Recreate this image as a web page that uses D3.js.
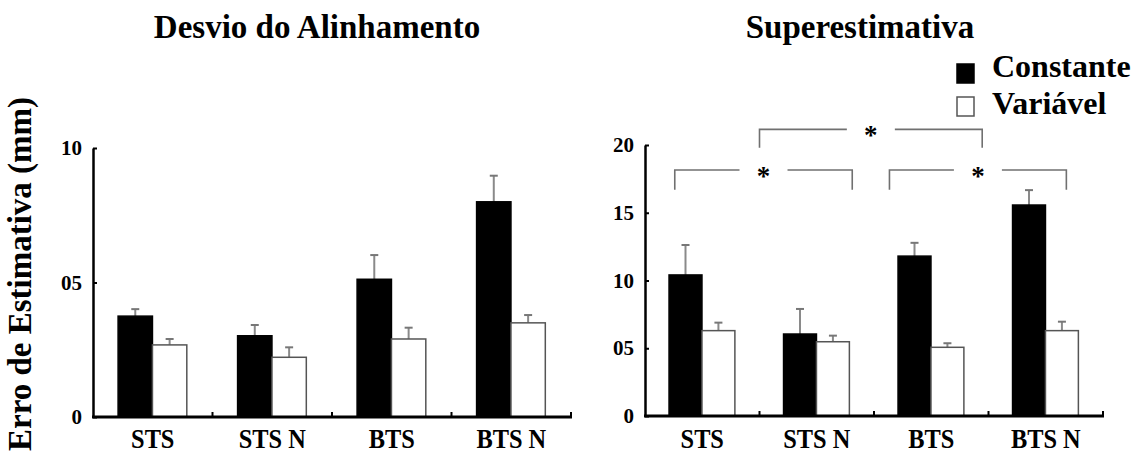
<!DOCTYPE html>
<html>
<head>
<meta charset="utf-8">
<script src="https://cdn.jsdelivr.net/npm/d3@7"></script>
<style>
  html, body { margin: 0; padding: 0; background: #fff; }
  svg { display: block; }
  text { font-family: "Liberation Serif", "Times New Roman", serif; font-weight: bold; fill: #000; }
</style>
</head>
<body>
<svg id="chart" width="1135" height="455"></svg>
<script>
// ---------- data ----------
const categories = ["STS", "STS N", "BTS", "BTS N"];
const seriesNames = ["Constante", "Variável"];

const desvioConstante    = [3.75, 3.02, 5.12, 8.00];
const desvioConstanteErr = [0.26, 0.40, 0.90, 0.97];
const desvioVariavel     = [2.68, 2.22, 2.90, 3.50];
const desvioVariavelErr  = [0.22, 0.37, 0.42, 0.29];

const superConstante     = [10.41, 6.05, 11.80, 15.57];
const superConstanteErr  = [2.21, 1.85, 0.98, 1.10];
const superVariavel      = [6.30, 5.48, 5.07, 6.30];
const superVariavelErr   = [0.59, 0.45, 0.30, 0.66];

const desvioTicks      = [0, 5, 10];
const desvioTickLabels = ["0", "05", "10"];
const superTicks       = [0, 5, 10, 15, 20];
const superTickLabels  = ["0", "05", "10", "15", "20"];

// significance brackets (right panel)
const bracketFrom  = ["STS", "BTS", "STS N"];
const bracketTo    = ["STS N", "BTS N", "BTS"];
const bracketTop   = [18.15, 18.15, 21.15];
const bracketLeg   = [16.7, 16.7, 19.8];
const bracketLabel = ["*", "*", "*"];

const titles = ["Desvio do Alinhamento", "Superestimativa"];
const yAxisTitle = "Erro de Estimativa (mm)";

// ---------- drawing ----------
const svg = d3.select("#chart");
const colors = ["#000000", "#ffffff"];
const serif = '"Liberation Serif", "Times New Roman", serif';

function panel(cfg) {
  const x = d3.scaleBand().domain(categories).range([cfg.x0, cfg.x1]).padding(0);
  const bw = x.bandwidth();
  const x1 = d3.scaleBand().domain(seriesNames).range([bw * 0.21, bw * 0.785]).padding(0);
  const y = d3.scaleLinear().domain(cfg.domain).range([cfg.y0, cfg.y1]);

  const g = svg.append("g");

  const rows = categories.map((c, i) => ({
    cat: c,
    vals: [
      { s: seriesNames[0], v: cfg.a[i], e: cfg.ae[i] },
      { s: seriesNames[1], v: cfg.b[i], e: cfg.be[i] }
    ]
  }));

  const grp = g.selectAll("g.cat").data(rows).join("g")
    .attr("class", "cat")
    .attr("transform", d => `translate(${x(d.cat)},0)`);

  // error bars (behind bars)
  grp.selectAll("g.err").data(d => d.vals).join("g").attr("class", "err")
    .each(function(d) {
      const cx = x1(d.s) + x1.bandwidth() / 2;
      const sel = d3.select(this);
      sel.append("line")
        .attr("x1", cx).attr("x2", cx)
        .attr("y1", y(d.v)).attr("y2", y(d.v + d.e))
        .attr("stroke", "#8a8a8a").attr("stroke-width", 2);
      sel.append("line")
        .attr("x1", cx - 4).attr("x2", cx + 4)
        .attr("y1", y(d.v + d.e)).attr("y2", y(d.v + d.e))
        .attr("stroke", "#777").attr("stroke-width", 2);
    });

  grp.selectAll("rect").data(d => d.vals).join("rect")
    .attr("x", d => x1(d.s))
    .attr("width", x1.bandwidth())
    .attr("y", d => y(d.v))
    .attr("height", d => y(0) - y(d.v))
    .attr("fill", (d, i) => colors[i])
    .attr("stroke", (d, i) => i === 0 ? "#000" : "#555")
    .attr("stroke-width", 1.5);

  // y axis
  const yAxis = d3.axisLeft(y)
    .tickValues(cfg.ticks)
    .tickFormat((d, i) => cfg.tickLabels[i])
    .tickSizeInner(-4).tickSizeOuter(0).tickPadding(11);
  const ya = g.append("g").attr("transform", `translate(${cfg.x0},0)`).call(yAxis);
  ya.select(".domain").attr("stroke", "#000").attr("stroke-width", 2.5);
  ya.selectAll(".tick line").attr("stroke", "#000").attr("stroke-width", 2);
  ya.selectAll(".tick text")
    .style("font-family", serif)
    .style("font-weight", "bold")
    .style("font-size", "21px")
    .attr("fill", "#000");

  // x axis line + boundary ticks
  g.append("line")
    .attr("x1", cfg.x0 - 1).attr("x2", cfg.x1 + 1)
    .attr("y1", y(0)).attr("y2", y(0))
    .attr("stroke", "#000").attr("stroke-width", 3);
  const bounds = categories.slice(1).map(c => x(c)).concat([cfg.x1]);
  g.selectAll("line.bt").data(bounds).join("line").attr("class", "bt")
    .attr("x1", d => d).attr("x2", d => d)
    .attr("y1", y(0)).attr("y2", y(0) - 5)
    .attr("stroke", "#000").attr("stroke-width", 2);

  // x labels
  const xAxis = d3.axisBottom(x).tickSize(0).tickPadding(0);
  const xa = g.append("g").attr("transform", `translate(0,${cfg.labelY})`).call(xAxis);
  xa.select(".domain").remove();
  xa.selectAll(".tick text")
    .attr("dy", 0).attr("y", 0)
    .style("font-family", serif)
    .style("font-weight", "bold")
    .style("font-size", "28px")
    .attr("fill", "#000")
    .each(function() {
      const w = this.getComputedTextLength();
      d3.select(this).attr("textLength", w * 0.87).attr("lengthAdjust", "spacingAndGlyphs");
    });

  // title
  svg.append("text")
    .attr("x", cfg.titleX).attr("y", 38)
    .attr("text-anchor", "middle")
    .style("font-size", "33px")
    .text(cfg.title);

  return { x, y, bw, g };
}

const left = panel({
  x0: 93, x1: 571, y0: 417, y1: 148, domain: [0, 10],
  a: desvioConstante, ae: desvioConstanteErr, b: desvioVariavel, be: desvioVariavelErr,
  ticks: desvioTicks, tickLabels: desvioTickLabels,
  labelY: 448, title: titles[0], titleX: 317
});

const right = panel({
  x0: 645, x1: 1103, y0: 416, y1: 145, domain: [0, 20],
  a: superConstante, ae: superConstanteErr, b: superVariavel, be: superVariavelErr,
  ticks: superTicks, tickLabels: superTickLabels,
  labelY: 448, title: titles[1], titleX: 860
});

// brackets
const fracFrom = [0.26, 0.135, 0.0];
const fracTo   = [0.81, 0.68, 0.945];
bracketFrom.forEach((f, i) => {
  const xl = right.x(f) + fracFrom[i] * right.bw;
  const xr = right.x(bracketTo[i]) + fracTo[i] * right.bw;
  const yt = right.y(bracketTop[i]);
  const yb = right.y(bracketLeg[i]);
  const mid = (xl + xr) / 2;
  const gap = 24;
  const bg = svg.append("g").attr("fill", "none").attr("stroke", "#707070").attr("stroke-width", 1.6);
  bg.append("path").attr("d", `M${xl},${yb}V${yt}H${mid - gap}`);
  bg.append("path").attr("d", `M${mid + gap},${yt}H${xr}V${yb}`);
  svg.append("text")
    .attr("x", mid).attr("y", yt + 15)
    .attr("text-anchor", "middle")
    .style("font-size", "27px")
    .text(bracketLabel[i]);
});

// legend
const legY = [64, 97];
seriesNames.forEach((s, i) => {
  svg.append("rect")
    .attr("x", 957).attr("y", legY[i])
    .attr("width", 17).attr("height", 19)
    .attr("fill", colors[i])
    .attr("stroke", i === 0 ? "#000" : "#555")
    .attr("stroke-width", 1.5);
  svg.append("text")
    .attr("x", 992).attr("y", legY[i] + 13)
    .attr("dy", i === 0 ? 0 : 4)
    .style("font-size", "32px")
    .text(s);
});

// y axis title
svg.append("text")
  .attr("transform", "translate(31,274) rotate(-90)")
  .attr("text-anchor", "middle")
  .style("font-size", "33px")
  .text(yAxisTitle);
</script>
</body>
</html>
